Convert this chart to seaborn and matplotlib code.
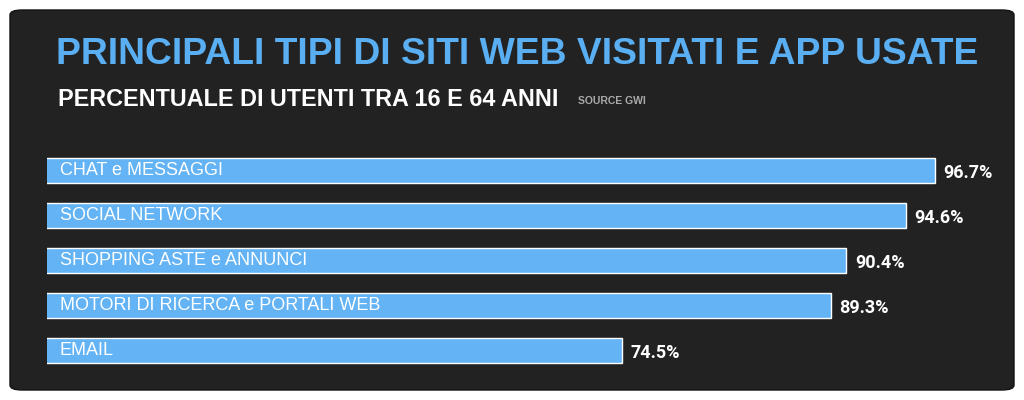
import matplotlib
matplotlib.use("Agg")
import matplotlib.pyplot as plt
from matplotlib.patches import FancyBboxPatch
import seaborn as sns
import pandas as pd

categories = ["CHAT e MESSAGGI", "SOCIAL NETWORK", "SHOPPING ASTE e ANNUNCI",
              "MOTORI DI RICERCA e PORTALI WEB", "EMAIL"]
values = [96.7, 94.6, 90.4, 89.3, 74.5]
value_labels = ["96.7%", "94.6%", "90.4%", "89.3%", "74.5%"]

sns.set_theme(style="white")
plt.rcParams['font.family'] = ['Liberation Sans', 'DejaVu Sans']

fig = plt.figure(figsize=(10.24, 4.0), dpi=100)
fig.patch.set_facecolor("white")
panel = FancyBboxPatch((10/1024, 10/400), 1004/1024, 380/400,
                       boxstyle="round,pad=0,rounding_size=0.012",
                       transform=fig.transFigure, facecolor="#222222",
                       edgecolor="#111111", linewidth=1, zorder=0)
fig.patches.append(panel)

ax = fig.add_axes([47/1024, 27/400, 953/1024, 225/400])
ax.set_zorder(5)
ax.set_facecolor("none")
df = pd.DataFrame({"cat": categories, "val": values})
sns.barplot(data=df, x="val", y="cat", ax=ax, color="#63b3f5", saturation=1,
            width=0.56, orient="h")
ax.set_xlim(33.7, 101.3)
ax.set_ylim(4.5, -0.5)
for sp in ax.spines.values():
    sp.set_visible(False)
ax.set_xticks([]); ax.set_yticks([])
ax.set_xlabel(""); ax.set_ylabel("")

for i, (c, v, lab) in enumerate(zip(categories, values, value_labels)):
    ax.text(34.6, i, c, color="white", fontsize=13, va="center", ha="left")
    ax.text(v + 0.6, i + 0.05, lab, color="white", fontsize=13, fontweight="bold",
            va="center", ha="left", family=['Roboto', 'DejaVu Sans'], fontstretch="condensed")

fig.text(517/1024, 1 - 55/400, "PRINCIPALI TIPI DI SITI WEB VISITATI E APP USATE",
         color="#5aaef2", fontsize=26.8, fontweight="bold", ha="center", va="center", zorder=5)
fig.text(58/1024, 1 - 100/400, "PERCENTUALE DI UTENTI TRA 16 E 64 ANNI",
         color="white", fontsize=16.8, fontweight="bold", ha="left", va="center", zorder=5)
fig.text(578/1024, 1 - 101/400, "SOURCE GWI", color="#aaaaaa", fontsize=7.5,
         fontweight="bold", ha="left", va="center", zorder=5)

fig.savefig("out.png", dpi=100, facecolor=fig.get_facecolor())
